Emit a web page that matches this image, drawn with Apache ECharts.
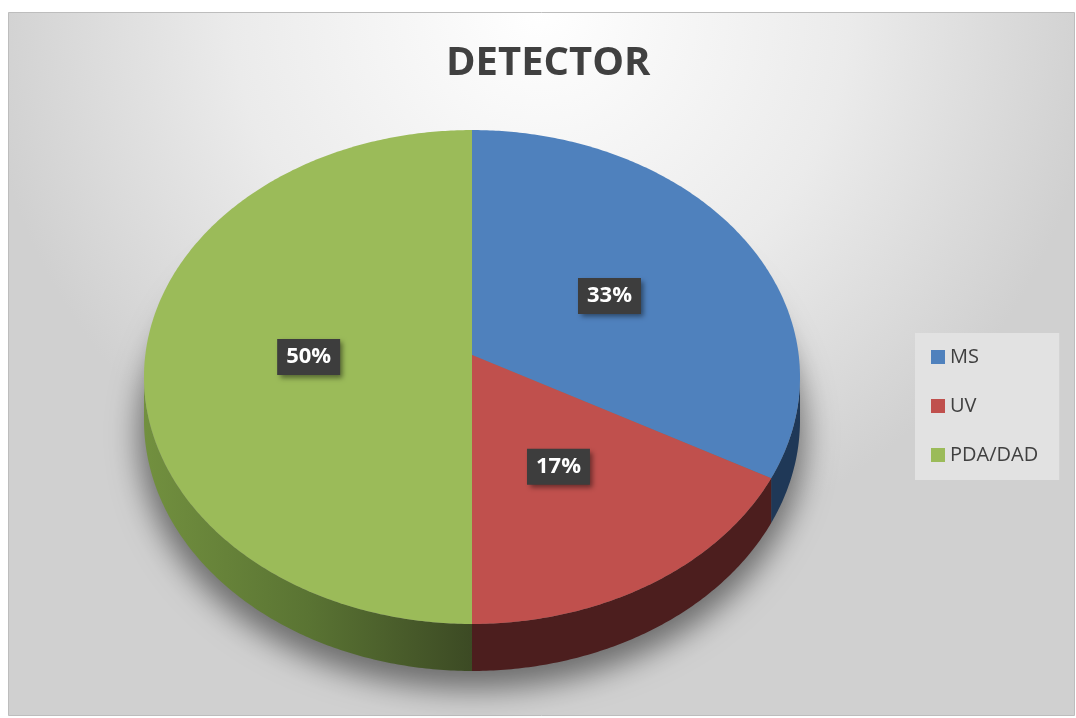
<!DOCTYPE html>
<html>
<head>
<meta charset="utf-8">
<title>DETECTOR</title>
<script src="https://cdn.jsdelivr.net/npm/echarts@6/dist/echarts.min.js"></script>
<style>
  html, body { margin: 0; padding: 0; background: #fff; }
  #main { width: 1076px; height: 718px; }
</style>
</head>
<body>
<div id="main"></div>
<script>
// data
var categories = ['MS', 'UV', 'PDA/DAD'];
var values = [33, 17, 50];

var topColors = ['#4f81bd', '#c0504d', '#9bbb59'];
var sideColors = [
  '#1f3857',
  '#4c1e1e',
  new echarts.graphic.LinearGradient(0, 0, 1, 0, [
    { offset: 0, color: '#72903f' },
    { offset: 0.5, color: '#5a7433' },
    { offset: 1, color: '#3c4a24' }
  ])
];
var FONT = '"Open Sans", "Liberation Sans", sans-serif';

// tilted pie: top face centre, radii, perspective factor and thickness
var CX = 472, CY = 355, RX = 326.7, RY = 245, K = 0.0891, DEPTH = 42.8;
var TH_R = Math.acos(-K);               // right silhouette (clockwise from 12 o'clock)
var TH_L = 2 * Math.PI - Math.acos(-K); // left silhouette

function proj(theta, f, down) {
  var X = f * Math.sin(theta), Z = -f * Math.cos(theta);
  var s = 1 / (1 - K * Z);
  return [CX + RX * X * s, CY + RY * Z * s + (down ? DEPTH * s : 0)];
}
function arc(a, b, f, down) {
  var n = Math.max(2, Math.ceil((b - a) / 0.01));
  var pts = [];
  for (var i = 0; i <= n; i++) pts.push(proj(a + (b - a) * i / n, f, down));
  return pts;
}

var total = values.reduce(function (s, v) { return s + v; }, 0);
var starts = [];
values.reduce(function (acc, v, i) { starts[i] = acc; return acc + v; }, 0);

function makeRender(i) {
  return function (params, api) {
    var a = starts[i] / total * 2 * Math.PI;
    var b = (starts[i] + values[i]) / total * 2 * Math.PI;
    var children = [];
    var lo = Math.max(a, TH_R), hi = Math.min(b, TH_L);
    if (hi > lo) {
      children.push({
        type: 'polygon',
        shape: { points: arc(lo, hi, 1, false).concat(arc(lo, hi, 1, true).reverse()) },
        style: { fill: sideColors[i] }
      });
    }
    children.push({
      type: 'polygon',
      shape: { points: [proj(0, 0, false)].concat(arc(a, b, 1, false)) },
      style: { fill: topColors[i] }
    });
    var p = proj((a + b) / 2, 0.5, false);
    children.push({
      type: 'text',
      x: p[0],
      y: p[1] + 2,
      z2: 10,
      style: {
        text: Math.round(values[i] / total * 100) + '%',
        fill: '#ffffff',
        font: 'bold 22px ' + FONT,
        align: 'center',
        verticalAlign: 'middle',
        backgroundColor: '#3d3d3d',
        padding: [6, 9, 6, 9],
        lineHeight: 24,
        shadowColor: 'rgba(0,0,0,0.45)',
        shadowBlur: 5,
        shadowOffsetX: 3,
        shadowOffsetY: 3
      }
    });
    return { type: 'group', children: children };
  };
}

// soft shadow under the pie: shape kept off screen, only its shadow shows
var shadowPts = arc(0, 2 * Math.PI, 1.015, true).map(function (pt) {
  return [pt[0], pt[1] - 2000];
});

var chart = echarts.init(document.getElementById('main'));
chart.setOption({
  animation: false,
  title: {
    text: 'DETECTOR',
    left: 441,
    top: 39,
    textStyle: { fontFamily: FONT, fontSize: 40, fontWeight: 'bold', color: '#404040' }
  },
  legend: {
    data: categories,
    orient: 'vertical',
    left: 915,
    top: 333,
    padding: [14, 21, 15, 16],
    itemGap: 29,
    itemWidth: 14,
    itemHeight: 14,
    icon: 'rect',
    backgroundColor: '#e2e2e2',
    textStyle: { fontFamily: FONT, fontSize: 20, color: '#404040' }
  },
  graphic: [
    {
      type: 'rect',
      z: -10,
      silent: true,
      shape: { x: 8.5, y: 12.5, width: 1066, height: 703 },
      style: {
        fill: {
          type: 'radial', x: 541, y: 10, r: 560, global: true,
          colorStops: [
            { offset: 0, color: '#ffffff' },
            { offset: 0.55, color: '#ebebeb' },
            { offset: 1, color: '#d0d0d0' }
          ]
        },
        stroke: '#bdbdbd',
        lineWidth: 1
      }
    },
    {
      type: 'polygon',
      z: -5,
      silent: true,
      shape: { points: shadowPts },
      style: {
        fill: '#000',
        shadowColor: 'rgba(0,0,0,0.48)',
        shadowBlur: 30,
        shadowOffsetX: 0,
        shadowOffsetY: 2014
      }
    }
  ],
  series: categories.map(function (name, i) {
    return {
      type: 'custom',
      name: name,
      coordinateSystem: 'none',
      color: topColors[i],
      data: [values[i]],
      renderItem: makeRender(i)
    };
  })
});
</script>
</body>
</html>
